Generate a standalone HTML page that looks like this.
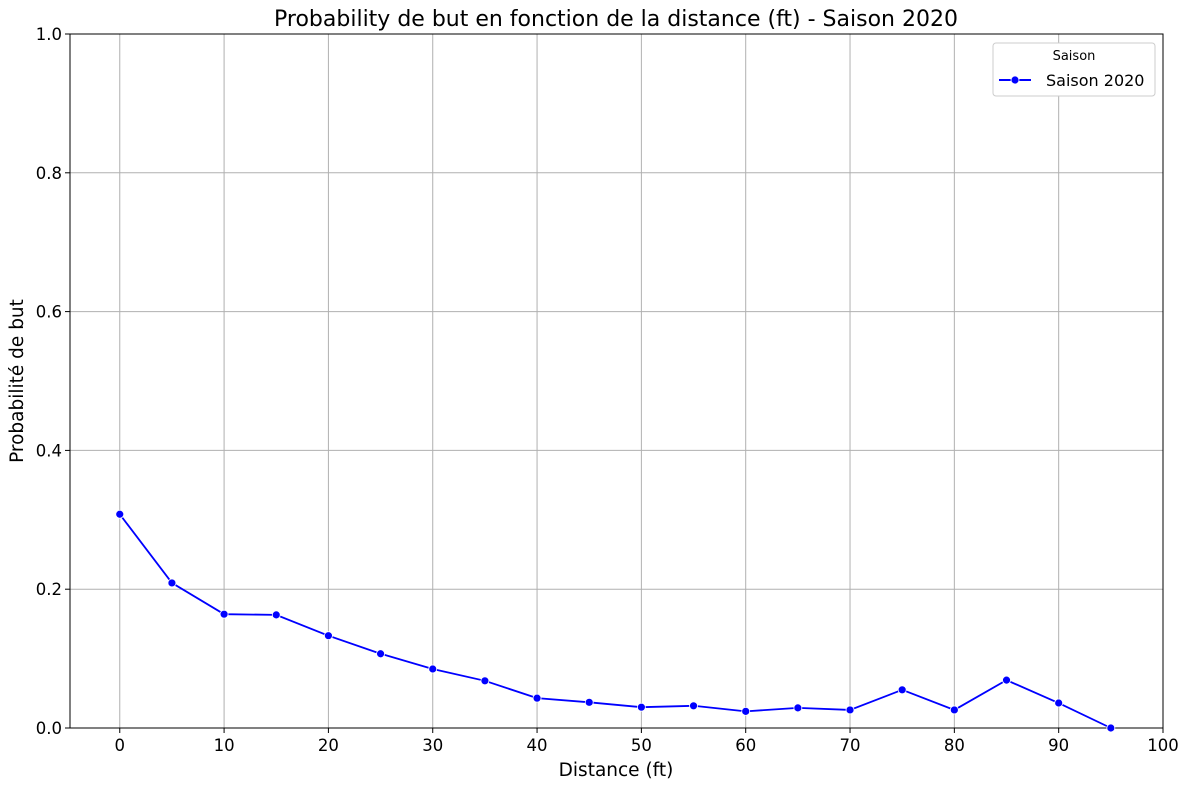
<!DOCTYPE html>
<html><head><meta charset="utf-8"><style>
body{margin:0;background:#fff;}
svg text{font-family:"DejaVu Sans","Liberation Sans",sans-serif;fill:#000;}
</style></head><body>
<svg id="chart" width="1185" height="784" xmlns="http://www.w3.org/2000/svg">
<text x="616" y="26" font-size="22" text-anchor="middle">Probability de but en fonction de la distance (ft) - Saison 2020</text>
<g id="grid"></g>
<g id="axes"></g>
<g id="series"></g>
<text x="616" y="776" font-size="18.5" text-anchor="middle">Distance (ft)</text>
<text x="23" y="381" font-size="18.5" text-anchor="middle" transform="rotate(-90 23 381)">Probabilité de but</text>
<g>
<rect x="993" y="43" width="162" height="53" rx="3" fill="#fff" stroke="#ccc"/>
<text x="1074" y="60" font-size="13" text-anchor="middle">Saison</text>
<line x1="999" y1="80" x2="1031" y2="80" stroke="#0000ff" stroke-width="2"/>
<circle cx="1015" cy="80" r="4" fill="#0000ff" stroke="#fff" stroke-width="0.8"/>
<text x="1046" y="86" font-size="16">Saison 2020</text>
</g>
</svg>
<script>
const distances=[0,5,10,15,20,25,30,35,40,45,50,55,60,65,70,75,80,85,90,95];
const probabilities=[0.308,0.209,0.164,0.163,0.133,0.107,0.085,0.068,0.043,0.037,0.030,0.032,0.024,0.029,0.026,0.055,0.026,0.069,0.036,0.0];
const xTicks=[0,10,20,30,40,50,60,70,80,90,100];
const yTicks=[0.0,0.2,0.4,0.6,0.8,1.0];
const NS="http://www.w3.org/2000/svg";
const L=70,R=1163,T=34,B=728;
const xMin=-4.77,xMax=100;
function sx(v){return L+(v-xMin)/(xMax-xMin)*(R-L);}
function sy(v){return B-v*(B-T);}
function mk(tag,attrs,parent){const e=document.createElementNS(NS,tag);for(const k in attrs)e.setAttribute(k,attrs[k]);parent.appendChild(e);return e;}
const grid=document.getElementById('grid'),axes=document.getElementById('axes'),series=document.getElementById('series');
xTicks.forEach(t=>{
 const g=mk('line',{x1:sx(t),x2:sx(t),y1:T,y2:B,stroke:'#b0b0b0','stroke-width':1},grid);
 
 
 const tk=mk('line',{x1:sx(t),x2:sx(t),y1:B,y2:B+5,stroke:'#000'},axes);
 
 
 const lb=mk('text',{x:sx(t),y:B+23,'font-size':16.5,'text-anchor':'middle'},axes);
 lb.textContent=t;
 
 
});
yTicks.forEach(t=>{
 const g=mk('line',{x1:L,x2:R,y1:sy(t),y2:sy(t),stroke:'#b0b0b0','stroke-width':1},grid);
 
 
 const tk=mk('line',{x1:L-5,x2:L,y1:sy(t),y2:sy(t),stroke:'#000'},axes);
 
 
 const lb=mk('text',{x:L-8,y:sy(t)+6,'font-size':16.5,'text-anchor':'end'},axes);
 lb.textContent=t.toFixed(1);
 
 
});
const frame=mk('rect',{x:L,y:T,width:R-L,height:B-T,fill:'none',stroke:'#000','stroke-width':1},axes);


const pts=distances.map((d,i)=>sx(d)+','+sy(probabilities[i])).join(' ');
const pl=mk('polyline',{points:pts,fill:'none',stroke:'#0000ff','stroke-width':1.8},series);


distances.forEach((d,i)=>{
 const c=mk('circle',{cx:sx(d),cy:sy(probabilities[i]),r:4,fill:'#0000ff',stroke:'#fff','stroke-width':0.8},series);
 
 
});
</script>
</body></html>
